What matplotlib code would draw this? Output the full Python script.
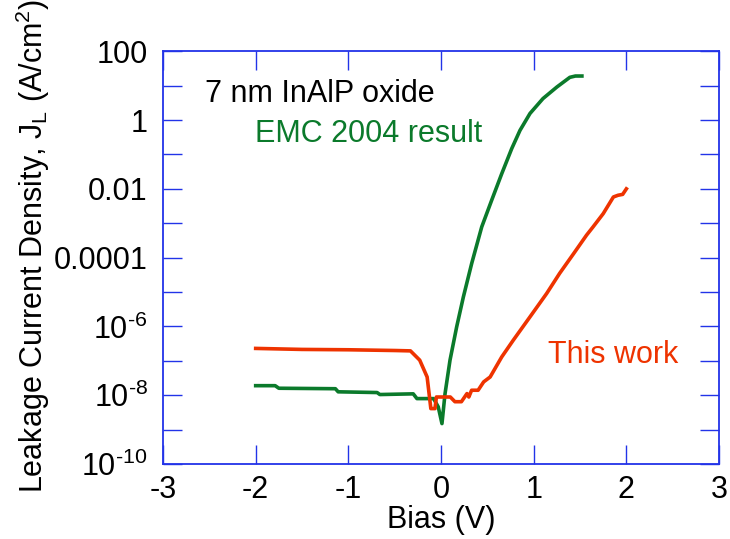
import matplotlib
matplotlib.use("Agg")
import matplotlib.pyplot as plt
from matplotlib.ticker import FixedLocator, FixedFormatter, NullLocator

plt.rcParams["font.family"] = ["Liberation Sans", "DejaVu Sans"]
plt.rcParams["mathtext.fontset"] = "custom"
plt.rcParams["mathtext.rm"] = "Liberation Sans"
plt.rcParams["mathtext.it"] = "Liberation Sans"
plt.rcParams["axes.unicode_minus"] = False

# EMC 2004 result (green)
emc_bias = [-2.0, -1.79, -1.75, -1.14, -1.11, -0.69, -0.66, -0.3, -0.26, -0.08,
            -0.03, 0.01, 0.043, 0.097, 0.169, 0.241, 0.331, 0.439, 0.547, 0.655,
            0.763, 0.852, 0.96, 1.10, 1.25, 1.39, 1.45, 1.52]
emc_j = [1.9e-8, 1.9e-8, 1.6e-8, 1.55e-8, 1.26e-8, 1.2e-8, 1.05e-8, 1.1e-8,
         8.0e-9, 8.0e-9, 4.6e-9, 1.5e-9, 1.1e-8, 1.05e-7, 9.8e-7, 7.2e-6,
         6.8e-5, 7.8e-4, 4.7e-3, 2.75e-2, 0.148, 0.50, 1.55, 4.2, 9.1, 17.4,
         19.0, 19.0]

# This work (red)
work_bias = [-2.0, -1.5, -1.0, -0.5, -0.33, -0.23, -0.15, -0.12, -0.11, -0.065,
             -0.05, 0.1, 0.15, 0.22, 0.28, 0.30, 0.33, 0.40, 0.46, 0.53, 0.655,
             0.78, 0.96, 1.14, 1.28, 1.43, 1.57, 1.64, 1.75, 1.86, 1.91, 1.96, 2.0]
work_j = [2.3e-7, 2.15e-7, 2.1e-7, 2.0e-7, 1.95e-7, 1.05e-7, 3.4e-8, 7.0e-9,
          4.1e-9, 4.1e-9, 8.9e-9, 8.9e-9, 6.5e-9, 6.5e-9, 1.12e-8, 8.9e-9,
          1.4e-8, 1.4e-8, 2.45e-8, 3.4e-8, 1.3e-7, 4.0e-7, 1.9e-6, 9.1e-6,
          3.5e-5, 1.3e-4, 4.5e-4, 7.8e-4, 1.9e-3, 5.8e-3, 6.5e-3, 6.9e-3, 1.0e-2]

x_ticks = [-3, -2, -1, 0, 1, 2, 3]
y_ticks = [1e-10, 1e-9, 1e-8, 1e-7, 1e-6, 1e-5, 1e-4, 1e-3, 1e-2, 1e-1, 1, 10, 100]
y_labels = [r"$\mathregular{10^{\text{-}10}}$", "", r"$\mathregular{10^{\text{-}8}}$", "",
            r"$\mathregular{10^{\text{-}6}}$", "", "0.0001", "", "0.01", "", "1", "", "100"]

blue = "#2233e8"
green = "#0b7a2b"
red = "#ee3300"

fig = plt.figure(figsize=(7.3, 5.39), dpi=100)
ax = fig.add_axes([0.2233, 0.139, 0.7617, 0.766])

ax.plot(emc_bias, emc_j, color=green, linewidth=2.6)
ax.plot(work_bias, work_j, color=red, linewidth=2.6)

ax.set_yscale("log")
ax.set_xlim(-3, 3)
ax.set_ylim(1e-10, 100)

ax.xaxis.set_major_locator(FixedLocator(x_ticks))
ax.yaxis.set_major_locator(FixedLocator(y_ticks))
ax.yaxis.set_major_formatter(FixedFormatter(y_labels))
ax.yaxis.set_minor_locator(NullLocator())

for s in ax.spines.values():
    s.set_color(blue)
    s.set_linewidth(1.3)

ax.tick_params(axis="both", which="major", direction="in", length=14,
               width=1.0, color=blue, labelsize=22, top=True, right=True)
ax.tick_params(axis="x", pad=8)
ax.tick_params(axis="y", pad=11)

ax.set_xlabel("Bias (V)", fontsize=22, labelpad=0)
ax.set_ylabel(r"Leakage Current Density, J$\mathregular{_L}$ (A/cm$\mathregular{^2}$)",
              fontsize=22)
ax.yaxis.set_label_coords(-0.2, 0.528)

ax.text(0.0754, 0.8765, "7 nm InAlP oxide", fontsize=22, color="black",
        va="baseline", ha="left", transform=ax.transAxes)
ax.text(0.165, 0.780, "EMC 2004 result", fontsize=22, color=green,
        va="baseline", ha="left", transform=ax.transAxes)
ax.text(0.692, 0.245, "This work", fontsize=22, color=red,
        va="baseline", ha="left", transform=ax.transAxes)

fig.savefig("out.png", dpi=100)
